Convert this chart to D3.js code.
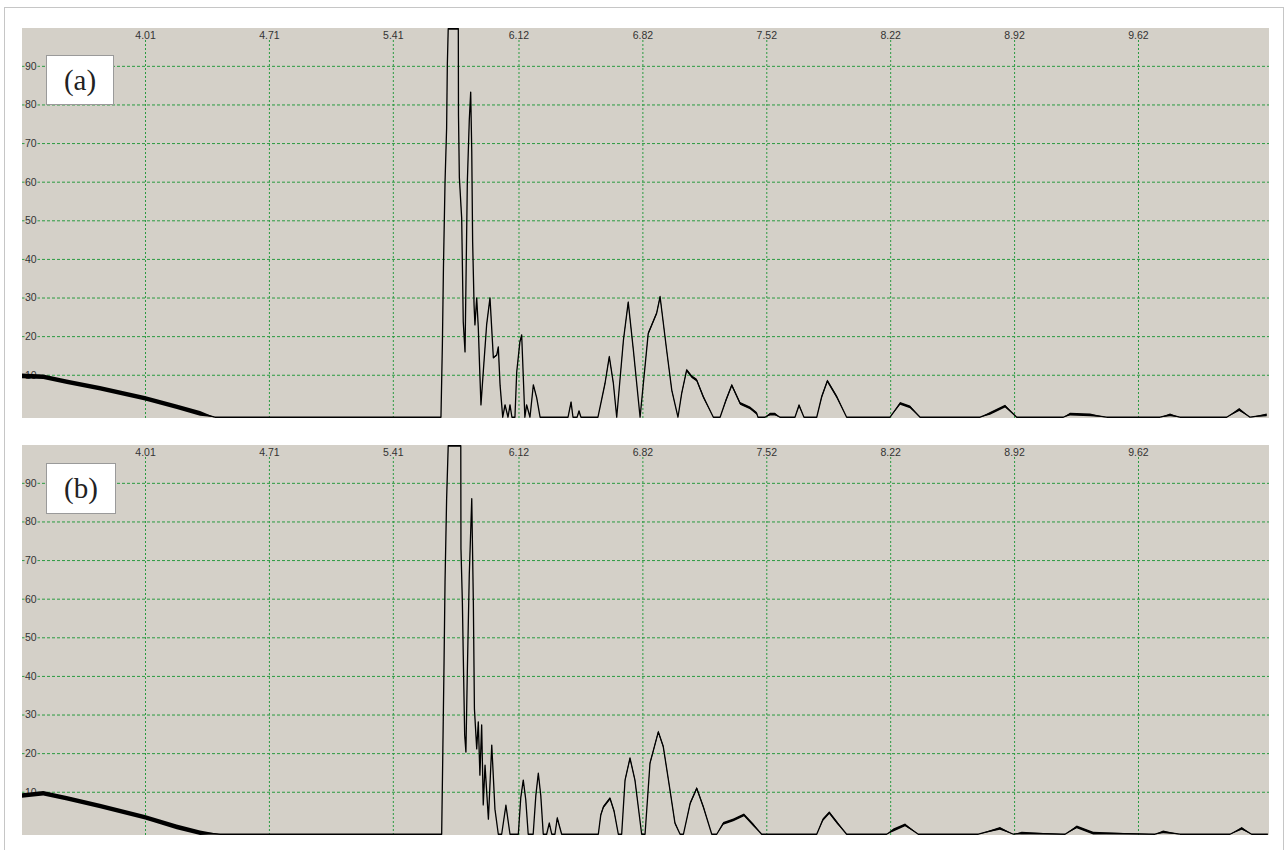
<!DOCTYPE html>
<html>
<head>
<style>
  body { margin: 0; background: #fff; }
  svg { display: block; }
</style>
</head>
<body>
<svg id="chart"></svg>
<script src="https://cdn.jsdelivr.net/npm/d3@7"></script>
<script>

// tick labels
var xTicks = [4.01, 4.71, 5.41, 6.12, 6.82, 7.52, 8.22, 8.92, 9.62];
var yTicks = [10, 20, 30, 40, 50, 60, 70, 80, 90];

// trace (a): [x, amplitude]
var sigA = [
  [3.315,9.7],[3.435,9.5],[3.568,8.2],[3.756,6.5],[4.010,3.9],[4.189,1.7],[4.321,0],[4.405,-1],
  [5.682,-1],[5.690,17.7],[5.696,37.6],[5.705,59.9],[5.714,73.9],[5.718,90.2],[5.723,99.6],[5.780,99.6],
  [5.781,77.3],[5.786,61.0],[5.799,50.6],[5.808,23.7],[5.818,15.9],[5.831,59.9],[5.842,75.9],[5.850,83.2],
  [5.856,67.7],[5.861,44.4],[5.869,28.1],[5.874,22.9],[5.884,29.9],[5.893,22.1],[5.902,9.9],[5.908,2.2],
  [5.921,10.7],[5.940,22.9],[5.959,29.9],[5.978,14.4],[5.997,15.1],[6.006,17.2],[6.016,7.3],[6.031,-1],
  [6.044,2.2],[6.061,-1],[6.072,2.2],[6.083,-1],[6.100,-1],[6.110,10.7],[6.128,18.5],[6.138,20.3],
  [6.156,-1],[6.166,2.2],[6.185,-1],[6.204,7.4],[6.223,4.0],[6.242,-1],
  [6.400,-1],[6.417,2.9],[6.428,-1],[6.451,-1],[6.462,0.6],[6.473,-1],
  [6.569,-1],[6.609,7.8],[6.633,14.7],[6.656,7.8],[6.675,-1],[6.713,19.0],[6.740,28.8],[6.769,16.4],
  [6.807,-1],[6.853,20.7],[6.901,26.0],[6.920,30.2],[6.957,16.4],[6.986,6.0],[7.021,-1],[7.042,5.2],
  [7.070,11.2],[7.099,9.5],[7.127,8.6],[7.164,4.3],[7.221,-1],[7.259,-1],[7.292,3.4],[7.325,7.3],
  [7.372,2.6],[7.428,1.4],[7.466,0],[7.473,-1],[7.513,-1],[7.541,-0.2],[7.569,-0.2],[7.597,-1],
  [7.682,-1],[7.705,2.1],[7.733,-1],[7.805,-1],[7.833,4.3],[7.865,8.4],[7.918,4.3],[7.974,-1],[8.219,-1],
  [8.276,2.6],[8.332,1.7],[8.389,-1],[8.728,-1],[8.784,0],[8.869,1.9],[8.935,-1],[9.198,-1],
  [9.236,-0.2],[9.349,-0.4],[9.443,-1],[9.744,-1],[9.801,-0.4],[9.857,-1],[10.121,-1],[10.192,1.0],
  [10.253,-1],[10.347,-0.4]
];

// trace (b)
var sigB = [
  [3.309,9.0],[3.435,9.6],[3.568,8.3],[3.756,6.3],[4.010,3.4],[4.189,0.9],[4.321,-0.6],[4.434,-1],
  [5.686,-1],[5.692,18.5],[5.699,41.9],[5.705,64.3],[5.714,85.9],[5.723,99.6],[5.794,99.6],[5.795,73.0],
  [5.803,59.1],[5.808,45.4],[5.816,24.7],[5.823,20.3],[5.831,41.0],[5.842,66.2],[5.856,85.9],[5.865,59.1],
  [5.871,31.5],[5.884,21.1],[5.893,28.1],[5.902,14.3],[5.912,27.3],[5.921,6.6],[5.931,16.9],[5.950,2.9],
  [5.969,22.1],[5.987,5.5],[6.006,-1],[6.025,-1],[6.049,6.5],[6.072,-1],[6.119,-1],[6.133,8.5],[6.147,13.0],
  [6.161,8.0],[6.175,-1],[6.203,-1],[6.218,9.0],[6.232,14.8],[6.246,9.0],[6.260,-1],[6.279,-1],[6.294,1.9],[6.308,-1],[6.326,-1],
  [6.339,3.2],[6.364,-1],[6.571,-1],[6.585,4.0],[6.600,6.1],[6.637,8.3],[6.660,5.0],[6.684,-1],[6.703,-1],[6.722,13.0],[6.750,18.7],
  [6.778,13.0],[6.816,-1],[6.835,-1],[6.863,17.4],[6.910,25.5],[6.938,21.7],[6.976,10.4],[7.004,1.9],[7.033,-1],[7.052,-1],
  [7.090,7.0],[7.127,10.9],[7.165,6.0],[7.212,-1],[7.240,-1],
  [7.277,1.8],[7.334,2.7],[7.394,4.0],[7.447,1.4],[7.494,-1],[7.805,-1],[7.840,2.8],[7.876,4.6],[7.920,2.0],[7.974,-1],
  [8.200,-1],[8.238,0.1],[8.304,1.4],[8.379,-1],[8.718,-1],[8.840,0.5],[8.916,-1],[8.963,-0.7],
  [9.208,-1],[9.274,0.9],[9.367,-0.7],[9.716,-1],[9.762,-0.4],[9.857,-1],[10.140,-1],[10.206,0.5],
  [10.262,-1],[10.354,-1]
];

var width = 1288, height = 850;
var left = 22, right = 1269, panelH = 390;
var bg = '#d4d0c8', grid = '#2a9a40';

var svg = d3.select('#chart')
    .attr('width', width)
    .attr('height', height);

// outer frame
svg.append('rect')
    .attr('x', 4.5).attr('y', 7.5)
    .attr('width', 1279).attr('height', 900)
    .attr('fill', 'none')
    .attr('stroke', '#c6c6c6')
    .attr('stroke-width', 1);

var x = d3.scaleLinear()
    .domain([3.315, 3.315 + (right - left) / 177])
    .range([left, right]);

var panels = [
  {top: 28, data: sigA, label: '(a)', box: [46, 27, 67, 49]},
  {top: 445, data: sigB, label: '(b)', box: [46, 18, 69, 50]}
];

// vertical thickness of the noisy trace, in px
function thick(d) {
  if (d[1] <= -0.9) return 0;
  if (d[0] < 4.6) return 2.3;
  if (d[0] < 6.3) return 0.7;
  return 1.4;
}

panels.forEach(function(p, i) {

  var y = d3.scaleLinear()
      .domain([-1.2, 99.8])
      .range([p.top + panelH, p.top]);

  var g = svg.append('g');

  g.append('rect')
      .attr('x', left).attr('y', p.top)
      .attr('width', right - left).attr('height', panelH)
      .attr('fill', bg);

  // horizontal grid
  g.append('g')
      .attr('transform', 'translate(' + left + ',0)')
      .call(d3.axisRight(y).tickValues(yTicks).tickSize(right - left).tickFormat(''))
      .call(function(s) {
        s.select('.domain').remove();
        s.selectAll('line').attr('stroke', grid).attr('stroke-dasharray', '3,2');
      });

  // vertical grid
  g.append('g')
      .attr('transform', 'translate(0,' + (p.top + 12) + ')')
      .call(d3.axisBottom(x).tickValues(xTicks).tickSize(panelH - 12).tickFormat(''))
      .call(function(s) {
        s.select('.domain').remove();
        s.selectAll('line').attr('stroke', grid).attr('stroke-dasharray', '2,2');
      });

  // x labels along the top
  g.append('g')
      .attr('transform', 'translate(0,' + (p.top + 10.5) + ')')
      .call(d3.axisTop(x).tickValues(xTicks).tickSize(0).tickPadding(0).tickFormat(d3.format('.2f')))
      .call(function(s) {
        s.select('.domain').remove();
        s.selectAll('text')
          .attr('font-family', 'Liberation Sans, Arial, sans-serif')
          .attr('font-size', '10.5px')
          .attr('fill', '#333');
      });

  // y labels on the left, over the grid
  g.append('g')
      .attr('transform', 'translate(' + left + ',0)')
      .call(d3.axisRight(y).tickValues(yTicks).tickSize(0).tickPadding(3))
      .call(function(s) {
        s.select('.domain').remove();
        s.selectAll('.tick').insert('rect', 'text')
          .attr('x', 2.5).attr('y', -4.5)
          .attr('width', 13).attr('height', 9)
          .attr('fill', bg);
        s.selectAll('text')
          .attr('font-family', 'Liberation Sans, Arial, sans-serif')
          .attr('font-size', '10.5px')
          .attr('fill', '#333');
      });

  var clipId = 'clip' + i;
  svg.append('clipPath').attr('id', clipId)
    .append('rect')
      .attr('x', left).attr('y', p.top)
      .attr('width', right - left).attr('height', panelH);

  var band = d3.area()
      .x(function(d) { return x(d[0]); })
      .y0(function(d) { return y(d[1]) - thick(d); })
      .y1(function(d) { return y(d[1]) + thick(d); });

  var line = d3.line()
      .x(function(d) { return x(d[0]); })
      .y(function(d) { return y(d[1]); });

  var trace = g.append('g').attr('clip-path', 'url(#' + clipId + ')');

  trace.append('path')
      .datum(p.data)
      .attr('d', band)
      .attr('fill', '#000');

  trace.append('path')
      .datum(p.data)
      .attr('d', line)
      .attr('fill', 'none')
      .attr('stroke', '#000')
      .attr('stroke-width', 1.3)
      .attr('stroke-linejoin', 'round');

  // panel tag
  g.append('rect')
      .attr('x', p.box[0] + 0.5).attr('y', p.top + p.box[1] + 0.5)
      .attr('width', p.box[2]).attr('height', p.box[3])
      .attr('fill', '#fff')
      .attr('stroke', '#9a9a9a');

  g.append('text')
      .attr('x', p.box[0] + p.box[2] / 2 + 0.5)
      .attr('y', p.top + p.box[1] + p.box[3] / 2 + 10)
      .attr('text-anchor', 'middle')
      .attr('font-family', 'Liberation Serif, Times New Roman, serif')
      .attr('font-size', '29px')
      .attr('fill', '#222')
      .text(p.label);
});

</script>
</body>
</html>
